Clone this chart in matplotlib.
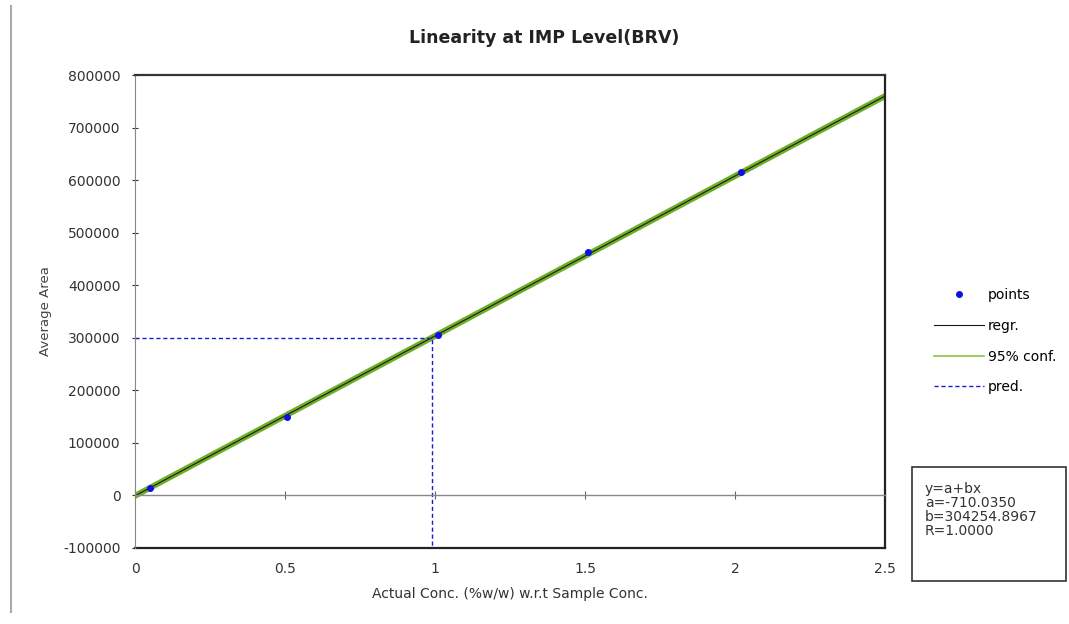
import numpy as np
import matplotlib
matplotlib.use('Agg')
import matplotlib.pyplot as plt
from matplotlib.lines import Line2D
from matplotlib.patches import Rectangle

plt.rcParams['font.family'] = ['DejaVu Sans']
plt.rcParams['axes.unicode_minus'] = False

# measured points
conc = [0.05, 0.505, 1.01, 1.51, 2.02]
area = [14500, 150000, 305000, 463000, 616000]

# fit reported on the chart
a = -710.0350
b = 304254.8967
line_x = np.array([0, 2.5])
conf_halfwidth = [2500, 2500]

# prediction at 300000
pred_y = 300000
pred_x = (pred_y - a) / b

fig = plt.figure(figsize=(10.69, 6.24), dpi=100)
ax = fig.add_axes([0.1263, 0.1218, 0.7016, 0.758])

regr_y = a + b * line_x
ax.plot(line_x, regr_y + np.array(conf_halfwidth), color='#6fae25', lw=2.6, label='95% conf.')
ax.plot(line_x, regr_y - np.array(conf_halfwidth), color='#6fae25', lw=2.6)
ax.plot(line_x, regr_y, color='#1a1a1a', lw=0.8, label='regr.')
ax.plot([0, pred_x, pred_x], [pred_y, pred_y, -100000], color='#1a1ad0',
        lw=1.0, ls=(0, (3, 2)), label='pred.')
ax.plot(conc, area, 'o', color='#1010e0', ms=4, label='points', zorder=5)

ax.set_xlim(0, 2.5)
ax.set_ylim(-100000, 800000)
ax.set_yticks(np.arange(-100000, 800001, 100000))
ax.tick_params(axis='y', direction='inout', length=5, labelsize=10, pad=8,
               colors='#333333')

# x ticks sit on the zero line, labels below the frame
ax.spines['bottom'].set_position(('data', 0))
ax.spines['bottom'].set_color('#888888')
ax.spines['bottom'].set_linewidth(1.0)
ax.set_xticks([0, 0.5, 1, 1.5, 2, 2.5])
ax.tick_params(axis='x', direction='inout', length=6, color='#666666', labelbottom=False)
sec = ax.secondary_xaxis(0)
sec.set_xticks([0, 0.5, 1, 1.5, 2, 2.5])
sec.set_xticklabels(['0', '0.5', '1', '1.5', '2', '2.5'])
sec.tick_params(length=0, labelsize=10, pad=10, colors='#333333')
sec.spines['bottom'].set_color('#222222')
sec.spines['bottom'].set_linewidth(1.6)

ax.spines['left'].set_color('#888888')
ax.spines['top'].set_color('#333333')
ax.spines['top'].set_linewidth(1.6)
ax.spines['right'].set_color('#222222')
ax.spines['right'].set_linewidth(1.6)

ax.set_ylabel('Average Area', fontsize=9.5, color='#444444', labelpad=8)
sec.set_xlabel('Actual Conc. (%w/w) w.r.t Sample Conc.', fontsize=10, color='#333333', labelpad=8)
ax.set_title('Linearity at IMP Level(BRV)', fontsize=12.5, fontweight='bold',
             color='#222222', pad=23, x=0.545)

handles, labels = ax.get_legend_handles_labels()
order = ['points', 'regr.', '95% conf.', 'pred.']
hmap = dict(zip(labels, handles))
leg_handles = [hmap['points'], hmap['regr.'],
               Line2D([], [], color='#8cc63f', lw=1.2), hmap['pred.']]
fig.legend(leg_handles, order, loc='upper left',
           bbox_to_anchor=(0.862, 0.558), frameon=False, fontsize=10,
           labelspacing=1.2, handlelength=3.6, handletextpad=0.3)

# fit box
fig.patches.append(Rectangle((0.853, 0.069), 0.144, 0.183, transform=fig.transFigure,
                             fill=False, edgecolor='#333333', lw=1.2))
fig.text(0.865, 0.228, 'y=a+bx\na=-710.0350\nb=304254.8967\nR=1.0000',
         fontsize=10, va='top', ha='left', color='#333333', linespacing=1.0)

# page edge line on the left
fig.lines.append(Line2D([0.0105, 0.0105], [0.02, 0.99], transform=fig.transFigure,
                        color='#aaaaaa', lw=1.5))

fig.savefig('out.png', dpi=100)
